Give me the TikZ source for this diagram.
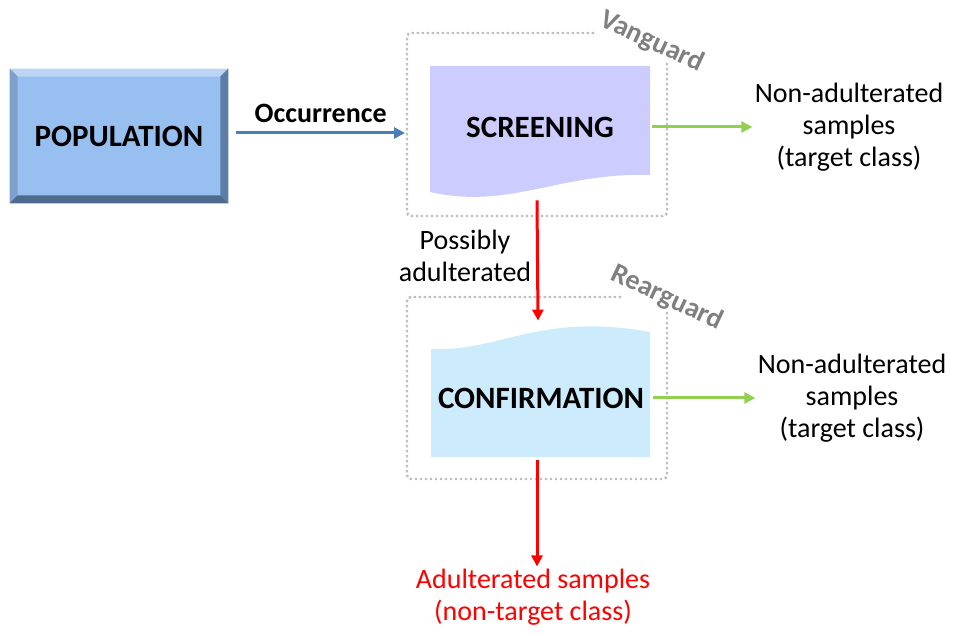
\documentclass[tikz,border=0pt]{standalone}
\usepackage{fontspec}
\setmainfont{Carlito}
\usetikzlibrary{arrows.meta,positioning,calc}

\definecolor{popface}{HTML}{97BFF0}
\definecolor{poptop}{HTML}{BCD5F5}
\definecolor{popleft}{HTML}{7FA0CB}
\definecolor{popright}{HTML}{5E7DA6}
\definecolor{popbottom}{HTML}{4E6A8F}
\definecolor{scrfill}{HTML}{CCCCFF}
\definecolor{cnffill}{HTML}{CCEBFC}
\definecolor{occblue}{HTML}{4A7EBB}
\definecolor{okgreen}{HTML}{92D050}
\definecolor{dotgray}{HTML}{BFBFBF}
\definecolor{tagray}{HTML}{808080}

\tikzset{
  flow/.style={line width=1.5pt,-{Triangle[length=5.5pt,width=5.5pt]}},
  stagebox/.style={minimum width=110pt,minimum height=59pt,inner sep=0pt,
    font=\fontsize{15.5}{18}\selectfont\bfseries},
  outtext/.style={align=center,inner sep=1pt,font=\fontsize{14}{16}\selectfont},
  guardbox/.style={dotgray,line width=1.2pt,dash pattern=on 1.2pt off 1.3pt,rounded corners=2pt},
  guardtag/.style={tagray,rotate=-25,font=\fontsize{14}{16}\selectfont\bfseries}
}

\begin{document}
\begin{tikzpicture}[x=0.5pt,y=-0.5pt,line cap=butt]
  \useasboundingbox (0,0) rectangle (953,635);

  % population block with bevelled edges
  \node[fill=popface,minimum width=109pt,minimum height=67pt,
        font=\fontsize{15.5}{18}\selectfont\bfseries] (pop) at (119,136) {POPULATION};
  \fill[poptop] (pop.north west) -- (pop.north east) -- ($(pop.north east)+(-8,8)$) -- ($(pop.north west)+(8,8)$) -- cycle;
  \fill[popleft] (pop.north west) -- ($(pop.north west)+(8,8)$) -- ($(pop.south west)+(8,-8)$) -- (pop.south west) -- cycle;
  \fill[popright] (pop.north east) -- (pop.south east) -- ($(pop.south east)+(-8,-8)$) -- ($(pop.north east)+(-8,8)$) -- cycle;
  \fill[popbottom] (pop.south west) -- (pop.south east) -- ($(pop.south east)+(-8,-8)$) -- ($(pop.south west)+(8,-8)$) -- cycle;

  % vanguard: screening
  \draw[guardbox] (594,33) -| (407,216) -| (667,62);
  \node[guardtag] at (652,42) {Vanguard};
  \fill[scrfill] (430,66) -- (650,66) -- (650,175)
    .. controls (560,172) and (510,210) .. (430,192) -- cycle;
  \node[stagebox] (scr) at (540,127) {SCREENING};

  % rearguard: confirmation
  \draw[guardbox] (621,297) -| (407,479) -| (667,312);
  \node[guardtag] at (667,298) {Rearguard};
  \fill[cnffill] (431,457) -- (431,349)
    .. controls (500,352) and (540,312) .. (650,332) -- (650,457) -- cycle;
  \node[stagebox] (cnf) at (541,398) {CONFIRMATION};

  % outcomes
  \node[outtext,right=51pt of scr] (okA) {Non-adulterated\\samples\\(target class)};
  \node[outtext,right=52pt of cnf] (okB) {Non-adulterated\\samples\\(target class)};
  \node[outtext,red] (bad) at (533,597) {Adulterated samples\\(non-target class)};
  \node[outtext] (maybe) at (465,256) {Possibly\\adulterated};

  % connectors
  \coordinate (vgin) at (405,133);
  \draw[flow,occblue] ([xshift=4pt,yshift=1.5pt]pop.east) -- node[above=1pt,black,font=\fontsize{14}{16}\selectfont\bfseries] (occ) {Occurrence} (vgin);
  \draw[flow,okgreen] ([xshift=1pt]scr.east) -- (okA.west);
  \draw[flow,okgreen] ([xshift=1pt]cnf.east) -- (okB.west);
  \draw[flow,red] ([xshift=-1.5pt,yshift=-7pt]scr.south) -- ([xshift=-1.5pt,yshift=9pt]cnf.north);
  \draw[flow,red] ([xshift=-2pt,yshift=-1.5pt]cnf.south) -- ([xshift=2pt]bad.north);
\end{tikzpicture}
\end{document}
